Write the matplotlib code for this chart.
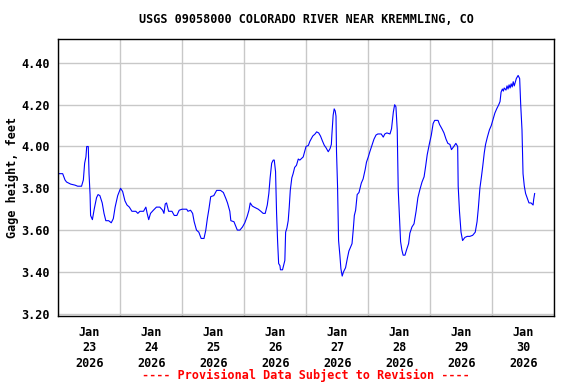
import matplotlib
matplotlib.use('Agg')
import matplotlib.pyplot as plt
from matplotlib.ticker import FormatStrFormatter

# hours since 2026-01-23 00:00, gage height in feet
hours = [0, 1.7, 2.6, 3.2, 4.8, 6.5, 7.5, 9, 9.7, 10.2, 10.7, 11, 11.6, 11.9, 12.3, 12.5,
         13.2, 13.9, 14.8, 15.4, 16.1, 17, 17.7, 18.4, 19.5, 20.5, 21.3, 22, 23, 24.1,
         24.9, 25.8, 26.6, 27.5, 28.5, 30, 30.8, 31.6, 33, 33.9, 34.4, 35, 35.7, 36.8,
         38, 39.3, 40.4, 40.9, 41.4, 41.9, 42.7, 44, 44.9, 45.9, 46.8, 47.9, 49.7, 50.2,
         51.2, 52, 52.6, 53.5, 54.4, 55.3, 56.4, 57.1, 57.7, 58.3, 59, 60.2, 61.3, 62.8,
         63.9, 64.9, 65.5, 66.4, 66.8, 68, 68.5, 69.3, 70.3, 71.3, 72.2, 73.1, 73.8, 74.3,
         75.1, 75.8, 77.4, 78.4, 79.3, 80.1, 80.9, 81.5, 82, 82.6, 83.2, 83.6, 84.1, 84.5,
         84.9, 85.3, 85.8, 86, 86.8, 87.2, 87.7, 88, 88.5, 89, 89.4, 89.8, 90.4, 90.9,
         91.5, 92.2, 92.9, 93.5, 94.8, 95.9, 96.8, 97.4, 98.5, 99.4, 100, 100.8, 101.5,
         102.3, 103, 103.6, 104.5, 105.2, 105.7, 105.9, 106.4, 106.8, 107.2, 107.5, 107.7,
         108.1, 108.5, 109, 109.4, 109.9, 110.4, 111.2, 111.9, 112.5, 113.2, 113.7, 114.2,
         114.6, 115.1, 115.7, 116.4, 117.3, 118, 118.8, 119.3, 120, 120.6, 121.4, 122.2,
         123, 123.7, 125, 125.8, 126.4, 127.2, 128.4, 129, 129.7, 130.2, 130.7, 131.2,
         131.6, 132.1, 132.5, 133, 133.5, 134.2, 134.8, 135.6, 136.1, 136.9, 137.7, 138.5,
         139.2, 140, 140.8, 141.6, 142.2, 142.8, 143.6, 144.4, 145.1, 145.7, 147, 147.6,
         148.5, 149.3, 150.1, 150.8, 151.6, 152.2, 153.1, 153.9, 154.6, 154.8, 155.3,
         155.9, 156.5, 157.4, 158.3, 159.3, 160.4, 161.4, 162.1, 162.6, 163.2, 163.8,
         164.3, 164.9, 165.4, 166.1, 166.9, 167.6, 168.4, 169, 169.7, 170.5, 171, 171.4,
         171.9, 172.3, 172.6, 173.3, 173.7, 174.1, 174.5, 174.9, 175.3, 175.7, 176.1,
         176.5, 177.3, 178, 178.6, 179, 179.5, 179.9, 180.4, 180.9, 181.6, 182.2, 183,
         183.8, 184, 184.4]
gage_ft = [3.87, 3.87, 3.84, 3.83, 3.82, 3.815, 3.81, 3.81, 3.84, 3.92, 3.95, 4.00, 4.00, 3.87,
           3.77, 3.67, 3.65, 3.70, 3.755, 3.77, 3.765, 3.73, 3.68, 3.645, 3.645, 3.635, 3.655,
           3.71, 3.765, 3.80, 3.785, 3.74, 3.72, 3.71, 3.69, 3.69, 3.68, 3.69, 3.69, 3.71,
           3.68, 3.65, 3.68, 3.695, 3.71, 3.71, 3.695, 3.68, 3.725, 3.73, 3.69, 3.69, 3.67,
           3.67, 3.695, 3.70, 3.70, 3.69, 3.695, 3.68, 3.64, 3.60, 3.59, 3.56, 3.56, 3.60,
           3.655, 3.70, 3.76, 3.765, 3.79, 3.79, 3.78, 3.75, 3.73, 3.69, 3.645, 3.64, 3.625,
           3.60, 3.60, 3.615, 3.635, 3.665, 3.695, 3.73, 3.715, 3.71, 3.70, 3.69, 3.68, 3.68,
           3.72, 3.775, 3.85, 3.92, 3.935, 3.935, 3.88, 3.68, 3.545, 3.44, 3.43, 3.41, 3.41,
           3.43, 3.455, 3.59, 3.61, 3.645, 3.71, 3.79, 3.85, 3.87, 3.90, 3.91, 3.94, 3.935,
           3.95, 4.00, 4.005, 4.025, 4.05, 4.06, 4.07, 4.065, 4.05, 4.025, 4.005, 3.995,
           3.975, 3.99, 4.01, 4.055, 4.15, 4.18, 4.17, 4.145, 3.975, 3.81, 3.55, 3.48, 3.415,
           3.38, 3.40, 3.42, 3.465, 3.50, 3.52, 3.535, 3.605, 3.67, 3.695, 3.77, 3.78, 3.825,
           3.845, 3.89, 3.925, 3.95, 3.975, 4.005, 4.035, 4.055, 4.06, 4.06, 4.045, 4.06,
           4.065, 4.06, 4.085, 4.165, 4.20, 4.19, 4.08, 3.79, 3.655, 3.545, 3.505, 3.48,
           3.48, 3.505, 3.535, 3.585, 3.615, 3.63, 3.69, 3.755, 3.795, 3.83, 3.855, 3.905,
           3.96, 4.01, 4.055, 4.11, 4.125, 4.125, 4.105, 4.085, 4.065, 4.035, 4.015, 4.01,
           3.985, 4.00, 4.015, 4.00, 3.81, 3.69, 3.59, 3.55, 3.565, 3.57, 3.57, 3.575, 3.59,
           3.64, 3.705, 3.80, 3.855, 3.905, 3.97, 4.01, 4.045, 4.08, 4.10, 4.135, 4.16, 4.18,
           4.20, 4.215, 4.26, 4.275, 4.265, 4.28, 4.27, 4.29, 4.275, 4.295, 4.28, 4.30, 4.285,
           4.31, 4.29, 4.325, 4.34, 4.325, 4.20, 4.08, 3.87, 3.81, 3.775, 3.75, 3.73,
           3.73, 3.72, 3.745, 3.775]

day_labels = ['Jan\n23\n2026', 'Jan\n24\n2026', 'Jan\n25\n2026', 'Jan\n26\n2026',
              'Jan\n27\n2026', 'Jan\n28\n2026', 'Jan\n29\n2026', 'Jan\n30\n2026']
y_ticks = [3.20, 3.40, 3.60, 3.80, 4.00, 4.20, 4.40]

plt.rcParams['font.family'] = 'DejaVu Sans Mono'
plt.rcParams['font.weight'] = 'bold'

fig = plt.figure(figsize=(5.76, 3.84), dpi=100)
ax = fig.add_axes([0.1012, 0.1771, 0.8611, 0.7206])

ax.plot(hours, gage_ft, color='#0000FF', linewidth=0.8)

ax.set_xlim(0, 192)
ax.set_ylim(3.189, 4.513)

# gridlines at midnight, labels at noon
ax.set_xticks(range(0, 193, 24))
ax.set_xticklabels([])
ax.set_xticks([12 + 24 * i for i in range(8)], minor=True)
ax.set_xticklabels(day_labels, minor=True, fontsize=8.5, fontweight='bold', linespacing=1.25)
ax.set_yticks(y_ticks)
ax.yaxis.set_major_formatter(FormatStrFormatter('%.2f'))
for lbl in ax.get_yticklabels():
    lbl.set_fontsize(8.5)
    lbl.set_fontweight('bold')
ax.tick_params(axis='both', which='both', length=0)
ax.tick_params(axis='x', which='minor', pad=7)
ax.tick_params(axis='y', pad=6)

ax.grid(True, which='major', color='#C8C8C8', linewidth=1.0)
ax.set_axisbelow(True)
for sp in ax.spines.values():
    sp.set_color('black')
    sp.set_linewidth(1.0)

ax.set_ylabel('Gage height, feet', fontsize=8.5, fontweight='bold', labelpad=1.5)
fig.text(0.5318, 0.950, 'USGS 09058000 COLORADO RIVER NEAR KREMMLING, CO',
         ha='center', va='center', fontsize=8.5, fontweight='bold')
fig.text(0.5318, 0.023, '---- Provisional Data Subject to Revision ----',
         ha='center', va='center', fontsize=8.5, fontweight='bold', color='red')

fig.savefig('out.png', dpi=100)
plt.close(fig)
